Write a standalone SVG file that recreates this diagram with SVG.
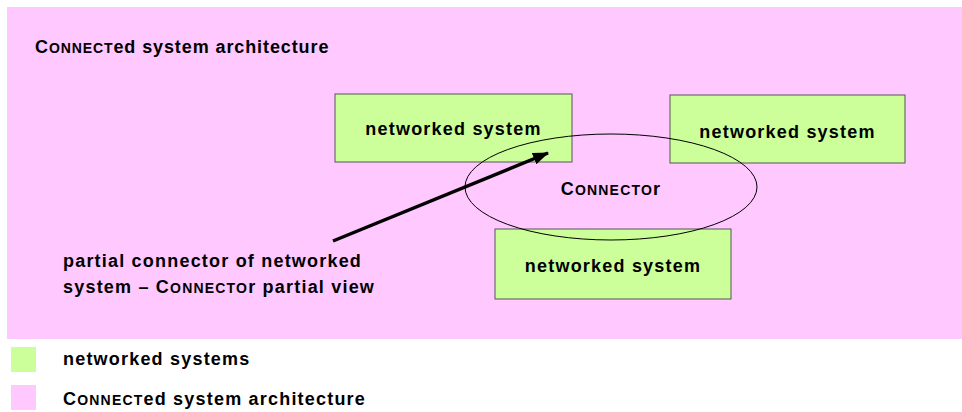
<svg xmlns="http://www.w3.org/2000/svg" width="962" height="412" viewBox="0 0 962 412">
<defs>
<style>
text { font-family: "Liberation Sans", Arial, sans-serif; font-weight: bold; fill: #000; font-size: 18px; letter-spacing: 1.2px; }
.box { fill: #CCFF99; stroke: #555; stroke-width: 1; }
.sc { font-size: 14px; }
</style>
<marker id="ah" markerWidth="16" markerHeight="12" refX="15" refY="6" orient="auto" markerUnits="userSpaceOnUse" viewBox="0 0 16 12">
<path d="M0,0 L16,6 L0,12 Z" fill="#000"/>
</marker>
</defs>
<rect x="0" y="0" width="962" height="412" fill="#fff"/>
<g id="architecture">
<rect x="7" y="7" width="955" height="332" fill="#FFC8FF"/>
<text x="35" y="53" style="letter-spacing:0.9px">C<tspan class="sc">ONNECT</tspan>ed system architecture</text>
</g>
<g id="node1">
<rect class="box" x="335" y="94" width="237" height="68"/>
<text x="453.5" y="135" text-anchor="middle">networked system</text>
</g>
<g id="node2">
<rect class="box" x="670" y="95" width="235" height="68"/>
<text x="787.5" y="138" text-anchor="middle">networked system</text>
</g>
<g id="node3">
<rect class="box" x="495" y="229" width="236" height="70"/>
<text x="613" y="272" text-anchor="middle">networked system</text>
</g>
<g id="connector">
<ellipse cx="611" cy="187" rx="146" ry="53" fill="none" stroke="#000" stroke-width="1"/>
<text x="611" y="195" text-anchor="middle">C<tspan class="sc">ONNECTO</tspan>r</text>
</g>
<g id="connectors">
<line x1="333" y1="241" x2="548" y2="153" stroke="#000" stroke-width="3.5" marker-end="url(#ah)"/>
</g>
<g id="annotation">
<text x="63" y="267">partial connector of networked</text>
<text x="63" y="293">system – C<tspan class="sc">ONNECTO</tspan>r partial view</text>
</g>
<g id="legend">
<rect x="11" y="347" width="25" height="25" fill="#CCFF99"/>
<text x="63" y="365">networked systems</text>
<rect x="11" y="385" width="25" height="25" fill="#FFC8FF"/>
<text x="63" y="405">C<tspan class="sc">ONNECT</tspan>ed system architecture</text>
</g>
</svg>
